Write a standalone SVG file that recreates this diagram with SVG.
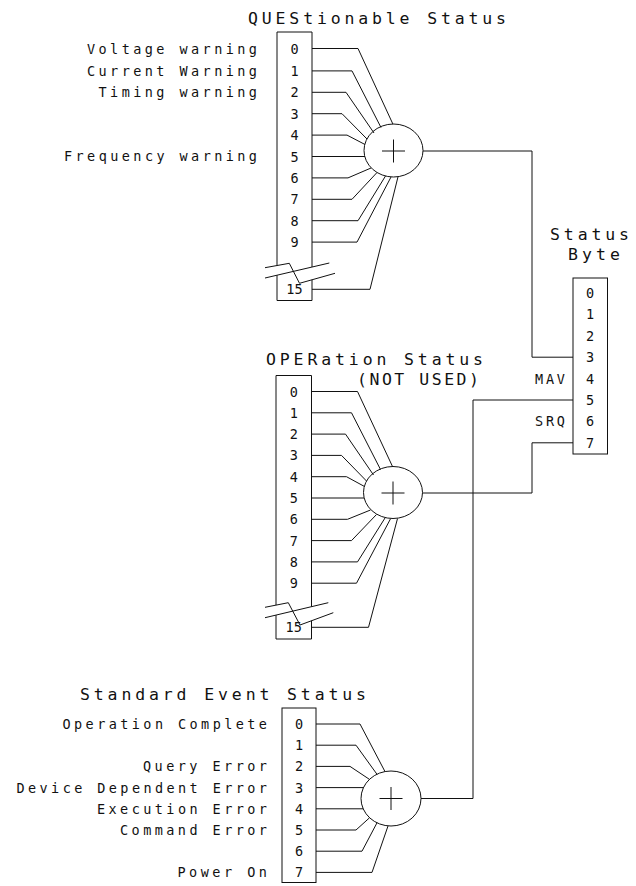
<svg xmlns="http://www.w3.org/2000/svg" width="636" height="886" viewBox="0 0 636 886">
<style>
  .ln{fill:none;stroke:#111;stroke-width:1}
  .t{font-family:"DejaVu Sans Mono","Liberation Mono",monospace;fill:#111}
  .lab{font-size:13.5px}
  .ttl{font-size:16.5px}
  .num{font-size:13.5px;text-anchor:middle}
</style>
<rect width="636" height="886" fill="#fff"/>

<g id="ques">
  <path class="ln" d="M277,265.5 V32 H312 V267 M277,275.2 V300.5 H312 V279.8"/>
  <path class="ln" d="M265,267.7 L289.3,263.3 L299.5,283.3 L335,273.3 M265,278 L329.3,263"/>
  <text class="t ttl" x="248" y="23.5" textLength="258" lengthAdjust="spacing">QUEStionable Status</text>
  <text class="t lab" x="87" y="53.5" textLength="170" lengthAdjust="spacing">Voltage warning</text>
  <text class="t lab" x="87" y="75.9" textLength="170" lengthAdjust="spacing">Current Warning</text>
  <text class="t lab" x="98.5" y="97.3" textLength="158.5" lengthAdjust="spacing">Timing warning</text>
  <text class="t lab" x="64" y="160.5" textLength="193" lengthAdjust="spacing">Frequency warning</text>
  <g class="t num">
    <text x="294.5" y="53.5">0</text>
    <text x="294.5" y="75.9">1</text>
    <text x="294.5" y="97.3">2</text>
    <text x="294.5" y="118.7">3</text>
    <text x="294.5" y="140.1">4</text>
    <text x="294.5" y="161.5">5</text>
    <text x="294.5" y="182.9">6</text>
    <text x="294.5" y="204.3">7</text>
    <text x="294.5" y="225.7">8</text>
    <text x="294.5" y="247.1">9</text>
    <text x="294.5" y="294.3">15</text>
  </g>
</g>

<g id="ques-sum">
  <ellipse class="ln" cx="393.5" cy="150.5" rx="29.5" ry="26.5"/>
  <path class="ln" d="M382,151 H405 M393.5,139.5 V162.5"/>
</g>

<g id="oper">
  <path class="ln" d="M276,605.1 V375.5 H311.5 V606.7 M276,615.1 V639 H311.5 V620.8"/>
  <path class="ln" d="M265,607.3 L288.3,602.7 L300,625 L333.3,612.7 M265,617.7 L328.3,602.7"/>
  <text class="t ttl" x="266" y="365" textLength="217" lengthAdjust="spacing">OPERation Status</text>
  <text class="t ttl" x="357" y="385" textLength="122" lengthAdjust="spacing">(NOT USED)</text>
  <g class="t num">
    <text x="293.75" y="396.5">0</text>
    <text x="293.75" y="417.8">1</text>
    <text x="293.75" y="439.1">2</text>
    <text x="293.75" y="460.4">3</text>
    <text x="293.75" y="481.7">4</text>
    <text x="293.75" y="503">5</text>
    <text x="293.75" y="524.3">6</text>
    <text x="293.75" y="545.6">7</text>
    <text x="293.75" y="566.9">8</text>
    <text x="293.75" y="588.2">9</text>
    <text x="293.75" y="632.3">15</text>
  </g>
</g>

<g id="oper-sum">
  <ellipse class="ln" cx="393" cy="492.5" rx="29.5" ry="26"/>
  <path class="ln" d="M381.5,493 H404.5 M393,481.5 V504.5"/>
</g>

<g id="stdevent">
  <rect class="ln" x="282" y="708" width="34" height="174.5"/>
  <text class="t ttl" x="80" y="700" textLength="286" lengthAdjust="spacing">Standard Event Status</text>
  <text class="t lab" x="62.5" y="729" textLength="204.5" lengthAdjust="spacing">Operation Complete</text>
  <text class="t lab" x="143" y="771.4" textLength="124" lengthAdjust="spacing">Query Error</text>
  <text class="t lab" x="16.5" y="792.6" textLength="250.5" lengthAdjust="spacing">Device Dependent Error</text>
  <text class="t lab" x="97" y="813.8" textLength="170" lengthAdjust="spacing">Execution Error</text>
  <text class="t lab" x="120" y="835" textLength="147" lengthAdjust="spacing">Command Error</text>
  <text class="t lab" x="177.5" y="877.4" textLength="89.5" lengthAdjust="spacing">Power On</text>
  <g class="t num">
    <text x="299" y="729">0</text>
    <text x="299" y="750.2">1</text>
    <text x="299" y="771.4">2</text>
    <text x="299" y="792.6">3</text>
    <text x="299" y="813.8">4</text>
    <text x="299" y="835">5</text>
    <text x="299" y="856.2">6</text>
    <text x="299" y="877.4">7</text>
  </g>
</g>

<g id="stdevent-sum">
  <ellipse class="ln" cx="391" cy="798.5" rx="30" ry="27.5"/>
  <path class="ln" d="M379.5,798.5 H402.5 M391,787 V810"/>
</g>

<g id="statusbyte">
  <rect class="ln" x="573" y="278" width="34.5" height="176"/>
  <text class="t ttl" x="550" y="240" textLength="79" lengthAdjust="spacing">Status</text>
  <text class="t ttl" x="568" y="260" textLength="52" lengthAdjust="spacing">Byte</text>
  <text class="t lab" x="535" y="383.6" textLength="30" lengthAdjust="spacing">MAV</text>
  <text class="t lab" x="535" y="426.4" textLength="30" lengthAdjust="spacing">SRQ</text>
  <g class="t num">
    <text x="590" y="298">0</text>
    <text x="590" y="319.4">1</text>
    <text x="590" y="340.8">2</text>
    <text x="590" y="362.2">3</text>
    <text x="590" y="383.6">4</text>
    <text x="590" y="405">5</text>
    <text x="590" y="426.4">6</text>
    <text x="590" y="447.8">7</text>
  </g>
</g>

<g id="connectors" class="ln">
  <!-- QUES inputs -->
  <path d="M312,48.5 H358 L393,124.3"/>
  <path d="M312,70.9 H352 L381,127.5"/>
  <path d="M312,92.3 H346 L374,133"/>
  <path d="M312,113.7 H342 L367,139"/>
  <path d="M312,135.1 H347 L365,144.5"/>
  <path d="M312,156.5 H365"/>
  <path d="M312,177.9 H348 L371,168"/>
  <path d="M312,199.3 H352 L377,172.5"/>
  <path d="M312,220.7 H358 L385.5,176"/>
  <path d="M312,242.1 H357 L391,177"/>
  <path d="M312,289.3 H370 L398,176.8"/>
  <!-- OPER inputs -->
  <path d="M311.5,391.5 H357.5 L392.5,466.5"/>
  <path d="M311.5,412.8 H351.5 L380.5,469.5"/>
  <path d="M311.5,434.1 H345.5 L373.5,475"/>
  <path d="M311.5,455.4 H341.5 L366.5,481"/>
  <path d="M311.5,476.7 H346.5 L364.5,486.5"/>
  <path d="M311.5,498 H364.2"/>
  <path d="M311.5,519.3 H347.5 L370.5,510"/>
  <path d="M311.5,540.6 H351.5 L376.5,514.5"/>
  <path d="M311.5,561.9 H357.5 L385,518"/>
  <path d="M311.5,583.2 H356.5 L390.5,518.8"/>
  <path d="M311.5,627.3 H368.5 L397.5,518.6"/>
  <!-- Standard Event inputs -->
  <path d="M316,724 H360 L385,771.6"/>
  <path d="M316,745.2 H356 L377,774.3"/>
  <path d="M316,766.4 H350 L369.5,779.4"/>
  <path d="M316,787.6 H363.5"/>
  <path d="M316,808.8 H363.2"/>
  <path d="M316,830 H356 L369.5,817.8"/>
  <path d="M316,851.2 H362 L377,822.8"/>
  <path d="M316,872.4 H372 L388,826"/>
  <!-- summary outputs to Status Byte -->
  <path d="M423,151 H532 V357.2 H573"/>
  <path d="M422.5,493 H532 V442.8 H573"/>
  <path d="M421,798.5 H473 V400 H573"/>
</g>
</svg>
